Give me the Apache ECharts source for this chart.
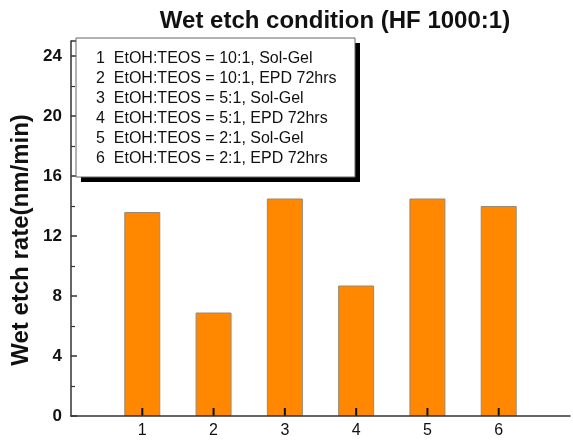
<!DOCTYPE html>
<html>
<head>
<meta charset="utf-8">
<script src="https://cdn.jsdelivr.net/npm/echarts@6/dist/echarts.min.js"></script>
<style>
  html, body { margin: 0; padding: 0; background: #fff; }
  #chart { width: 573px; height: 443px; }
</style>
</head>
<body>
<div id="chart"></div>
<script>
// Sample numbers along the x axis
const samples = [1, 2, 3, 4, 5, 6];
// Measured wet etch rate in nm/min
const etchRates = [13.6, 6.9, 14.5, 8.7, 14.5, 14.0];
// Key describing each sample
const sampleNotes = [
  '1  EtOH:TEOS = 10:1, Sol-Gel',
  '2  EtOH:TEOS = 10:1, EPD 72hrs',
  '3  EtOH:TEOS = 5:1, Sol-Gel',
  '4  EtOH:TEOS = 5:1, EPD 72hrs',
  '5  EtOH:TEOS = 2:1, Sol-Gel',
  '6  EtOH:TEOS = 2:1, EPD 72hrs'
];
const yTicks = [0, 4, 8, 12, 16, 20, 24];

const FONT = 'Liberation Sans, Arial, sans-serif';
const chart = echarts.init(document.getElementById('chart'), null, { renderer: 'canvas' });

const keyLeft = 76, keyTop = 38, keyW = 279, keyH = 139;

chart.setOption({
  animation: false,
  title: {
    text: 'Wet etch condition (HF 1000:1)',
    left: 330, top: 4, textAlign: 'center',
    textStyle: { fontFamily: FONT, fontWeight: 'bold', fontSize: 24, color: '#111' }
  },
  grid: { left: 71, right: -2, top: 41, bottom: 27 },
  xAxis: {
    type: 'value', min: 0, max: 7, interval: 1, z: 10,
    axisLine: { show: true, lineStyle: { color: '#333', width: 1.5 } },
    axisTick: { show: false },
    splitLine: { show: false },
    axisLabel: {
      margin: 7, fontSize: 16, color: '#111', fontFamily: FONT,
      formatter: v => (samples.indexOf(v) >= 0 ? String(v) : '')
    }
  },
  yAxis: {
    type: 'value', min: 0, max: 25, interval: 4, z: 10,
    axisLine: { show: true, lineStyle: { color: '#333', width: 1.5 } },
    axisTick: { show: true, inside: true, length: 6, lineStyle: { color: '#333', width: 1.5 } },
    minorTick: { show: true, splitNumber: 2, length: 4, lineStyle: { color: '#333', width: 1.2 } },
    splitLine: { show: false },
    axisLabel: {
      margin: 9, fontSize: 17, fontWeight: 'bold', color: '#111', fontFamily: FONT,
      showMaxLabel: false,
      formatter: v => (yTicks.indexOf(v) >= 0 ? String(v) : '')
    }
  },
  series: [
    {
      type: 'bar',
      barWidth: 36,
      data: samples.map((s, i) => [s, etchRates[i]]),
      itemStyle: { color: '#FF8800', borderColor: '#998877', borderWidth: 1 },
      z: 1
    },
    {
      // short upward tick marks at each sample position on the x axis
      type: 'scatter',
      silent: true,
      clip: false,
      data: samples.map(s => [s, 0]),
      symbol: 'rect',
      symbolSize: [2, 8],
      symbolOffset: [0, -4],
      itemStyle: { color: '#111', opacity: 1 },
      z: 5
    }
  ],
  graphic: [
    {
      type: 'text', z: 12,
      x: 21, y: 240, rotation: Math.PI / 2,
      style: {
        text: 'Wet etch rate(nm/min)', fill: '#111', fontSize: 24, fontWeight: 'bold',
        fontFamily: FONT, align: 'center', verticalAlign: 'middle'
      }
    },
    {
      type: 'rect', z: 10,
      shape: { x: keyLeft + 5, y: keyTop + 5, width: keyW, height: keyH },
      style: { fill: '#000' }
    },
    {
      type: 'rect', z: 11,
      shape: { x: keyLeft, y: keyTop, width: keyW, height: keyH },
      style: { fill: '#fff', stroke: '#666', lineWidth: 1 }
    }
  ].concat(sampleNotes.map((t, i) => ({
    type: 'text', z: 12,
    x: 96, y: 59 + i * 20,
    style: {
      text: t, fill: '#111', fontSize: 16,
      fontFamily: FONT, verticalAlign: 'middle'
    }
  })))
});
</script>
</body>
</html>
